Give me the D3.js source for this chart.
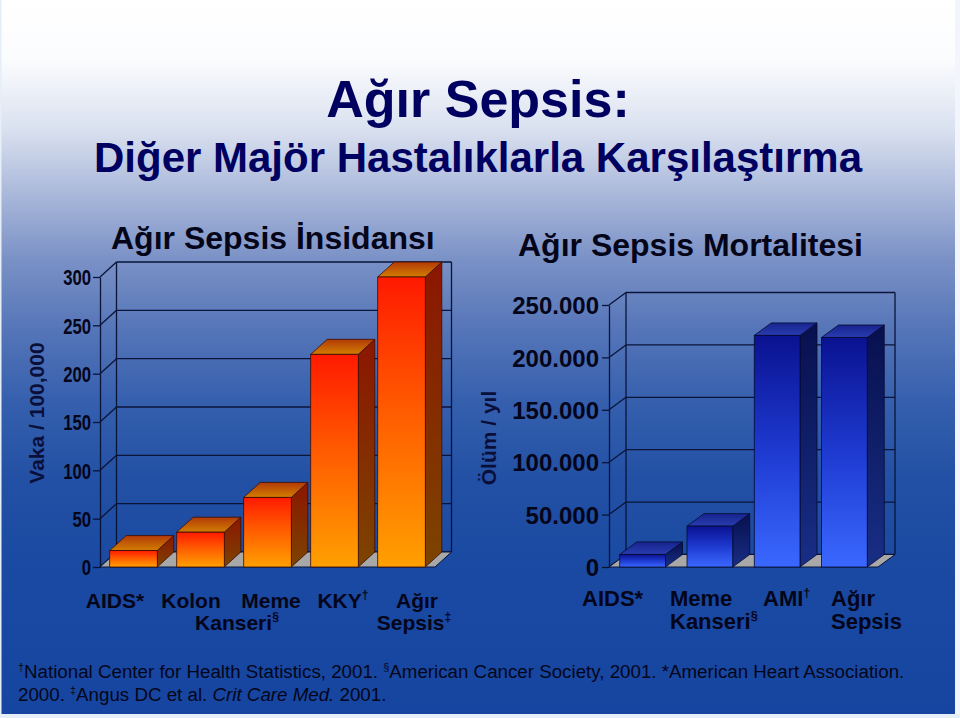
<!DOCTYPE html>
<html>
<head>
<meta charset="utf-8">
<script src="https://cdn.jsdelivr.net/npm/d3@7"></script>
<style>
html, body { margin: 0; padding: 0; background: #fff; }
svg { display: block; font-family: "Liberation Sans", Arial, sans-serif; }
</style>
</head>
<body>
<script>
// --- data ---
const incidenceCats = ["AIDS", "Kolon Kanseri", "Meme Kanseri", "KKY", "Ağır Sepsis"];
const incidenceValues = [17, 36, 72, 220, 300];
const incidenceTicks = [0, 50, 100, 150, 200, 250, 300];
const incidenceTickLabels = ["0", "50", "100", "150", "200", "250", "300"];

const mortalityCats = ["AIDS", "Meme Kanseri", "AMI", "Ağır Sepsis"];
const mortalityValues = [12000, 39000, 221000, 219000];
const mortalityTicks = [0, 50000, 100000, 150000, 200000, 250000];
const mortalityTickLabels = ["0", "50.000", "100.000", "150.000", "200.000", "250.000"];

// category label text as it is set on the slide: [text, superscript]
const incidenceLabelRows = [
  [["AIDS*", ""], ["Kolon", ""], ["Meme", ""], ["KKY", "†"], ["Ağır", ""]],
  [["Kanseri", "§"], ["Sepsis", "‡"]]
];
const mortalityLabelRows = [
  [["AIDS*", ""], ["Meme", ""], ["AMI", "†"], ["Ağır", ""]],
  [["Kanseri", "§"], ["Sepsis", ""]]
];

const title = "Ağır Sepsis:";
const subtitle = "Diğer Majör Hastalıklarla Karşılaştırma";
const leftTitle = "Ağır Sepsis İnsidansı";
const rightTitle = "Ağır Sepsis Mortalitesi";
const leftYTitle = "Vaka / 100,000";
const rightYTitle = "Ölüm / yıl";

// --- layout ---
const W = 960, H = 718;
const svg = d3.select("body").append("svg").attr("width", W).attr("height", H);
const defs = svg.append("defs");

function linGrad(id, stops, x1, y1, x2, y2, units) {
  const g = defs.append("linearGradient").attr("id", id)
    .attr("x1", x1).attr("y1", y1).attr("x2", x2).attr("y2", y2);
  if (units) g.attr("gradientUnits", units);
  stops.forEach(s => g.append("stop").attr("offset", s[0]).attr("stop-color", s[1]));
}

linGrad("bg", [
  [0, "#ffffff"], [60 / H, "#fbfcfe"], [130 / H, "#d9e0ef"], [200 / H, "#a5b4d8"],
  [260 / H, "#7a91c6"], [330 / H, "#5575b8"], [400 / H, "#3660ae"], [480 / H, "#2250a4"],
  [560 / H, "#1a4aa2"], [1, "#1545a0"]
], 0, 0, 0, H, "userSpaceOnUse");
linGrad("orFront", [[0, "#ff1a00"], [0.45, "#ff5a00"], [1, "#ffa000"]], 0, 0, 0, 1);
linGrad("orSide", [[0, "#8c1600"], [1, "#7c4400"]], 0, 0, 0, 1);
linGrad("orTop", [[0, "#b23a08"], [1, "#d27e00"]], 0, 0, 0, 1);
linGrad("blFront", [[0, "#0a1290"], [0.5, "#1e3ad0"], [1, "#3a68ff"]], 0, 0, 0, 1);
linGrad("blSide", [[0, "#08104e"], [1, "#182e86"]], 0, 0, 0, 1);
linGrad("blTop", [[0, "#16248e"], [1, "#2a3cb0"]], 0, 0, 0, 1);

svg.append("rect").attr("width", W).attr("height", H).attr("fill", "url(#bg)");
// light slide border on the edges
svg.append("rect").attr("x", 955).attr("y", 0).attr("width", 5).attr("height", H).attr("fill", "#f2f5fb");
svg.append("rect").attr("x", 0).attr("y", 714).attr("width", W).attr("height", 4).attr("fill", "#e6eef8");
svg.append("rect").attr("x", 0).attr("y", 0).attr("width", 1.5).attr("height", H).attr("fill", "#e6eef8");

// titles
svg.append("text").attr("x", 478).attr("y", 117).attr("text-anchor", "middle")
  .attr("font-size", 52).attr("font-weight", "bold").attr("fill", "#000060").text(title);
svg.append("text").attr("x", 478).attr("y", 172).attr("text-anchor", "middle")
  .attr("font-size", 42).attr("font-weight", "bold").attr("fill", "#000060").text(subtitle);
svg.append("text").attr("x", 111).attr("y", 249)
  .attr("font-size", 32).attr("font-weight", "bold").attr("fill", "#05051a").text(leftTitle);
svg.append("text").attr("x", 518).attr("y", 256)
  .attr("font-size", 32).attr("font-weight", "bold").attr("fill", "#05051a").text(rightTitle);

function chart3d(o) {
  const g = svg.append("g");
  const x = d3.scaleBand().domain(o.cats).range([o.x0, o.x1])
    .paddingInner(o.padIn).paddingOuter(o.padIn / 2);
  const y = d3.scaleLinear().domain([0, o.max]).range([o.yBase, o.yTop]);
  const dx = o.dx, dy = o.dy, line = "#0a1438";

  // back wall gridlines + left wall diagonals
  g.selectAll(".grid").data(o.ticks).enter().append("line")
    .attr("x1", o.x0 + dx).attr("x2", o.x1 + dx)
    .attr("y1", d => y(d) + dy).attr("y2", d => y(d) + dy)
    .attr("stroke", line).attr("stroke-width", 1.3);
  g.selectAll(".diag").data(o.ticks).enter().append("line")
    .attr("x1", o.x0).attr("y1", d => y(d))
    .attr("x2", o.x0 + dx).attr("y2", d => y(d) + dy)
    .attr("stroke", line).attr("stroke-width", 1.3);
  [o.x0 + dx, o.x1 + dx].forEach(xx => {
    g.append("line").attr("x1", xx).attr("x2", xx)
      .attr("y1", y(o.max) + dy).attr("y2", o.yBase + dy)
      .attr("stroke", line).attr("stroke-width", 1.3);
  });

  // floor
  g.append("polygon")
    .attr("points", [[o.x0, o.yBase], [o.x1, o.yBase], [o.x1 + dx, o.yBase + dy], [o.x0 + dx, o.yBase + dy]].join(" "))
    .attr("fill", "#a8a8a8").attr("stroke", line).attr("stroke-width", 1);

  // axis on the front-left edge
  const ax = g.append("g").attr("transform", `translate(${o.x0},0)`)
    .call(d3.axisLeft(y).tickValues(o.ticks).tickFormat((d, i) => o.tickLabels[i])
      .tickSize(7).tickSizeOuter(0).tickPadding(o.tickPad));
  ax.select(".domain").attr("stroke", line).attr("stroke-width", 1.3);
  ax.selectAll(".tick line").attr("stroke", line).attr("stroke-width", 1.3);
  ax.selectAll(".tick text").attr("fill", "#05051a").attr("font-weight", "bold")
    .attr("font-size", o.tickSize).attr("dy", "0.36em")
    .attr("x", -(7 + o.tickPad) / o.tickSquash)
    .attr("transform", `scale(${o.tickSquash},1)`);

  // bars
  const bw = x.bandwidth();
  const bars = g.selectAll(".bar").data(o.values).enter().append("g");
  bars.append("polygon")
    .attr("points", (d, i) => {
      const bx = x(o.cats[i]) + bw, by = y(d);
      return [[bx, by], [bx + dx, by + dy], [bx + dx, o.yBase + dy], [bx, o.yBase]].join(" ");
    })
    .attr("fill", `url(#${o.side})`).attr("stroke", o.stroke).attr("stroke-width", 0.8);
  bars.append("polygon")
    .attr("points", (d, i) => {
      const bx = x(o.cats[i]), by = y(d);
      return [[bx, by], [bx + bw, by], [bx + bw + dx, by + dy], [bx + dx, by + dy]].join(" ");
    })
    .attr("fill", `url(#${o.top})`).attr("stroke", o.stroke).attr("stroke-width", 0.8);
  bars.append("rect")
    .attr("x", (d, i) => x(o.cats[i])).attr("width", bw)
    .attr("y", d => y(d)).attr("height", d => o.yBase - y(d))
    .attr("fill", `url(#${o.front})`).attr("stroke", o.stroke).attr("stroke-width", 0.8);

  // y title
  g.append("text").attr("transform", `translate(${o.yTitleX},${o.yTitleY}) rotate(-90)`)
    .attr("text-anchor", "middle").attr("font-size", 21).attr("font-weight", "bold")
    .attr("fill", "#0a0f3a").text(o.yTitle);

  // category labels
  o.labelRows.forEach((row, r) => {
    row.forEach((lab, k) => {
      const t = g.append("text").attr("x", o.labelX[r][k]).attr("y", o.labelY[r])
        .attr("text-anchor", o.labelAnchor).attr("font-size", o.labelSize)
        .attr("font-weight", "bold").attr("fill", "#05051a");
      t.append("tspan").text(lab[0]);
      if (lab[1]) t.append("tspan").attr("font-size", "0.58em").attr("dy", "-0.7em").text(lab[1]);
    });
  });
}

chart3d({
  cats: incidenceCats, values: incidenceValues, ticks: incidenceTicks, tickLabels: incidenceTickLabels,
  max: 300, x0: 100, x1: 435, yBase: 567, yTop: 277, dx: 16.5, dy: -15, padIn: 0.29,
  front: "orFront", side: "orSide", top: "orTop", stroke: "#3a0c00",
  tickSize: 22, tickSquash: 0.76, tickPad: 2,
  yTitle: leftYTitle, yTitleX: 44, yTitleY: 413,
  labelRows: incidenceLabelRows, labelX: [[115, 191, 271, 343, 417], [237, 414]], labelY: [608, 630],
  labelAnchor: "middle", labelSize: 21
});

chart3d({
  cats: mortalityCats, values: mortalityValues, ticks: mortalityTicks, tickLabels: mortalityTickLabels,
  max: 250000, x0: 609, x1: 878, yBase: 567, yTop: 305, dx: 17, dy: -12.5, padIn: 0.32,
  front: "blFront", side: "blSide", top: "blTop", stroke: "#050a30",
  tickSize: 24, tickSquash: 1, tickPad: 3,
  yTitle: rightYTitle, yTitleX: 496, yTitleY: 438,
  labelRows: mortalityLabelRows, labelX: [[582, 670, 763, 831], [670, 831]], labelY: [606, 629],
  labelAnchor: "start", labelSize: 22
});

// footnote
const fn = svg.append("g").attr("fill", "#05051a");
const fn1 = fn.append("text").attr("x", 18).attr("y", 678).attr("font-size", 19);
fn1.append("tspan").attr("font-size", 11).attr("dy", -7).text("†");
fn1.append("tspan").attr("dy", 7).text("National Center for Health Statistics, 2001. ");
fn1.append("tspan").attr("font-size", 11).attr("dy", -7).text("§");
fn1.append("tspan").attr("dy", 7).text("American Cancer Society, 2001. *American Heart Association.");
const fn2 = fn.append("text").attr("x", 18).attr("y", 701).attr("font-size", 19);
fn2.append("tspan").text("2000. ");
fn2.append("tspan").attr("font-size", 11).attr("dy", -7).text("‡");
fn2.append("tspan").attr("dy", 7).text("Angus DC et al. ");
fn2.append("tspan").attr("font-style", "italic").text("Crit Care Med.");
fn2.append("tspan").text(" 2001.");
// fit the first line to the width it has on the slide
const w1 = fn1.node().getComputedTextLength();
const k = 887 / w1;
fn.selectAll("text").attr("transform", `translate(18,0) scale(${k},1) translate(-18,0)`);
</script>
</body>
</html>
